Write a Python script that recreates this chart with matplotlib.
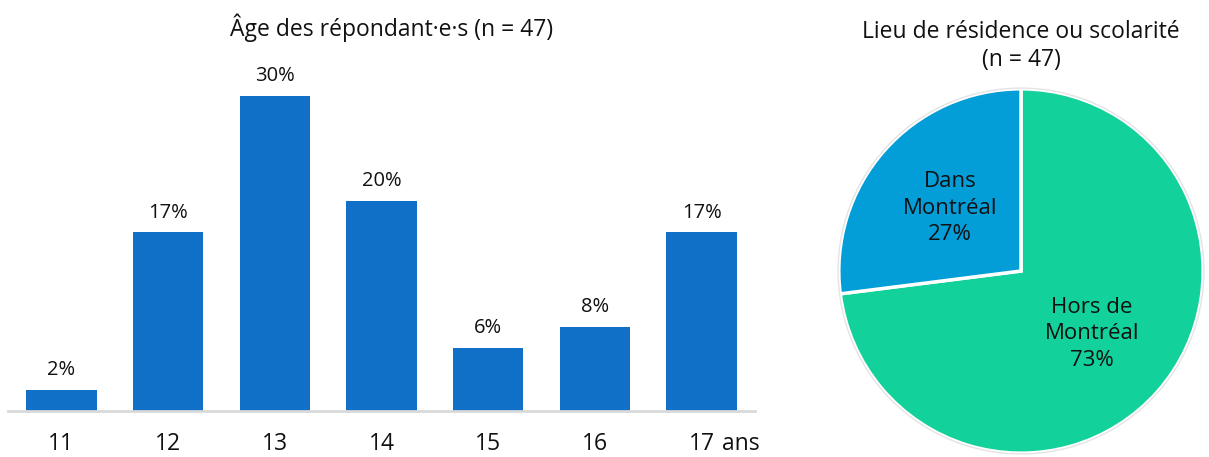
import matplotlib
matplotlib.use("Agg")
import matplotlib.pyplot as plt

plt.rcParams["font.family"] = ["Open Sans", "DejaVu Sans"]

# Age distribution of respondents
ages = ["11", "12", "13", "14", "15", "16", "17"]
age_pct = [2, 17, 30, 20, 6, 8, 17]
age_title = "Âge des répondant·e·s (n = 47)"
age_unit = "ans"

# Place of residence / schooling
places = ["Hors de\nMontréal", "Dans\nMontréal"]
place_pct = [73, 27]
place_title = "Lieu de résidence ou scolarité\n(n = 47)"

BAR_COLOR = "#106fc7"
PIE_COLORS = ["#12d19a", "#039dd8"]
TEXT = "#111111"

W, H = 1209, 457
fig = plt.figure(figsize=(W / 100, H / 100), dpi=100)

# ---- bar chart ----
ax = fig.add_axes([8 / W, 46 / H, 747 / W, 347 / H])
x = range(len(ages))
bars = ax.bar(x, age_pct, width=0.66, color=BAR_COLOR, zorder=2)
for b, v in zip(bars, age_pct):
    ax.annotate(f"{v}%", (b.get_x() + b.get_width() / 2, b.get_height()),
                xytext=(0, 7), textcoords="offset points",
                ha="center", va="bottom", fontsize=14.5, color=TEXT)
ax.set_xlim(-0.5, len(ages) - 0.5)
ax.set_ylim(0, 33)
ax.set_xticks(list(x))
ax.set_xticklabels(ages, fontsize=16.5, color=TEXT)
ax.tick_params(axis="x", length=0, pad=24)
for lbl in ax.get_xticklabels():
    lbl.set_va("center")
ax.set_yticks([])
for s in ["top", "right", "left"]:
    ax.spines[s].set_visible(False)
ax.spines["bottom"].set_color("#d9d9d9")
ax.spines["bottom"].set_linewidth(2)
ax.annotate(age_unit, (len(ages) - 1 + 0.19, 0),
            xycoords=("data", "axes fraction"),
            xytext=(0, -24), textcoords="offset points",
            ha="left", va="center", fontsize=16.5, color=TEXT)
fig.text(392 / W, 1 - 28 / H, age_title, ha="center", va="center",
         fontsize=16.5, color=TEXT)

# ---- pie chart ----
r = 184
cx, cy = 1021, 271
pax = fig.add_axes([(cx - r) / W, (H - cy - r) / H, 2 * r / W, 2 * r / H])
label_iter = iter(places)
pax.pie(place_pct, colors=PIE_COLORS, startangle=90, counterclock=False,
        radius=1, pctdistance=0.52,
        autopct=lambda p: f"{next(label_iter)}\n{p:.0f}%",
        wedgeprops=dict(edgecolor="white", linewidth=2.5),
        textprops=dict(fontsize=16, color=TEXT, linespacing=1.35))
circle = plt.Circle((0, 0), 1.004, fill=False, edgecolor="#e4e4e4", linewidth=1)
pax.add_patch(circle)
pax.set_xlim(-1.01, 1.01)
pax.set_ylim(-1.01, 1.01)
pax.set_aspect("equal")
pax.axis("off")
fig.text(cx / W, 1 - 46 / H, place_title, ha="center", va="center",
         fontsize=16.5, color=TEXT, linespacing=1.25)

fig.savefig("out.png", dpi=100, facecolor="white")
